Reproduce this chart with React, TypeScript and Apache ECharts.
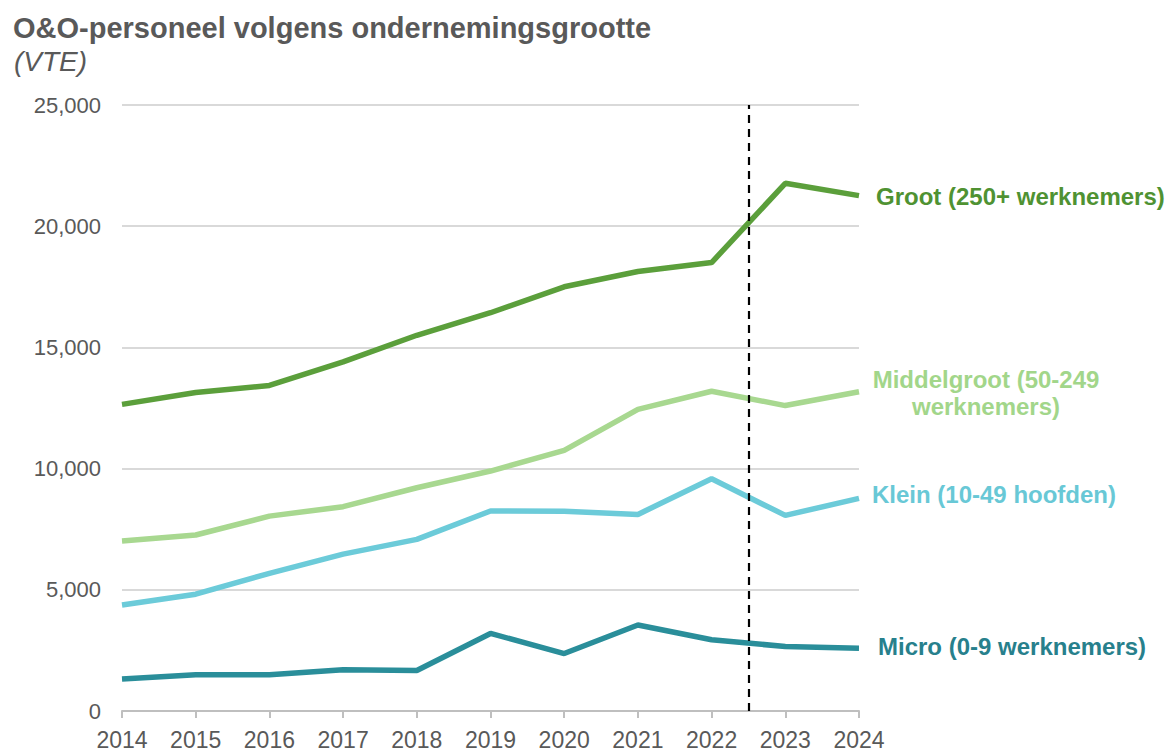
import React, { useEffect, useRef } from "react";
import * as echarts from "echarts";

const years = [2014, 2015, 2016, 2017, 2018, 2019, 2020, 2021, 2022, 2023, 2024];
const groot = [12650, 13140, 13430, 14400, 15500, 16430, 17500, 18130, 18500, 21770, 21260];
const middelgroot = [7010, 7260, 8040, 8430, 9210, 9900, 10750, 12440, 13190, 12600, 13170];
const klein = [4370, 4820, 5680, 6470, 7080, 8250, 8240, 8110, 9580, 8070, 8770];
const micro = [1320, 1500, 1500, 1700, 1670, 3200, 2370, 3550, 2940, 2660, 2590];
const seriesNames = [
  "Groot (250+ werknemers)",
  "Middelgroot (50-249\nwerknemers)",
  "Klein (10-49 hoofden)",
  "Micro (0-9 werknemers)",
];
const colors = ["#5b9f3b", "#a8d890", "#6ccbd9", "#2a8e9a"];
const labelColors = ["#4f9232", "#a2d68a", "#68c8d6", "#27808c"];
const breakYear = 2022.5;

const FONT = "Liberation Sans, Arial, sans-serif";

export default function App() {
  const ref = useRef<HTMLDivElement>(null);
  useEffect(() => {
    const chart = echarts.init(ref.current!, null, { renderer: "svg" });
    const datasets = [groot, middelgroot, klein, micro];
    const labelDistance = [17, 0, 13, 19];
    const labelOffset = [
      [0, 1],
      [127, 1],
      [0, -4],
      [0, -2],
    ];
    const series: any[] = datasets.map((d, i) => ({
      name: seriesNames[i],
      type: "line",
      data: years.map((y, j) => [y, d[j]]),
      symbol: "none",
      lineStyle: { color: colors[i], width: 5.5 },
      itemStyle: { color: colors[i] },
      z: 3,
      endLabel: {
        show: true,
        formatter: seriesNames[i],
        color: labelColors[i],
        fontFamily: FONT,
        fontWeight: "bold",
        fontSize: 24,
        lineHeight: 27,
        align: i === 1 ? "center" : "left",
        distance: labelDistance[i],
        offset: labelOffset[i],
      },
    }));
    series[0].markLine = {
      silent: true,
      symbol: "none",
      label: { show: false },
      lineStyle: { color: "#000", type: [8, 6], width: 2.2 },
      data: [[{ coord: [breakYear, 0] }, { coord: [breakYear, 25000] }]],
    };
    chart.setOption({
      animation: false,
      title: [
        {
          text: "O&O-personeel volgens ondernemingsgrootte",
          left: 8,
          top: 8,
          textStyle: { fontFamily: FONT, fontSize: 29, fontWeight: "bold", color: "#595959" },
        },
        {
          text: "(VTE)",
          left: 9,
          top: 42,
          textStyle: { fontFamily: FONT, fontSize: 28, fontStyle: "italic", fontWeight: "normal", color: "#595959" },
        },
      ],
      grid: { left: 122, right: 310, top: 105, bottom: 39, containLabel: false },
      xAxis: {
        type: "value",
        min: 2014,
        max: 2024,
        interval: 1,
        axisLine: { show: true, lineStyle: { color: "#bfbfbf", width: 2 } },
        axisTick: { show: true, length: 7, lineStyle: { color: "#bfbfbf", width: 2 } },
        splitLine: { show: false },
        axisLabel: {
          formatter: (v: number) => String(v),
          fontFamily: FONT,
          fontSize: 23,
          color: "#595959",
          margin: 17,
        },
      },
      yAxis: {
        type: "value",
        min: 0,
        max: 25000,
        interval: 5000,
        axisLine: { show: false },
        axisTick: { show: false },
        splitLine: { lineStyle: { color: "#d9d9d9", width: 2 } },
        axisLabel: {
          formatter: (v: number) => v.toLocaleString("en-US"),
          fontFamily: FONT,
          fontSize: 22,
          color: "#595959",
          margin: 21,
        },
      },
      series,
    });
    return () => chart.dispose();
  }, []);
  return (
    <div
      ref={ref}
      style={{ position: "fixed", left: 0, top: 0, width: 1169, height: 751, background: "#fff" }}
    />
  );
}
